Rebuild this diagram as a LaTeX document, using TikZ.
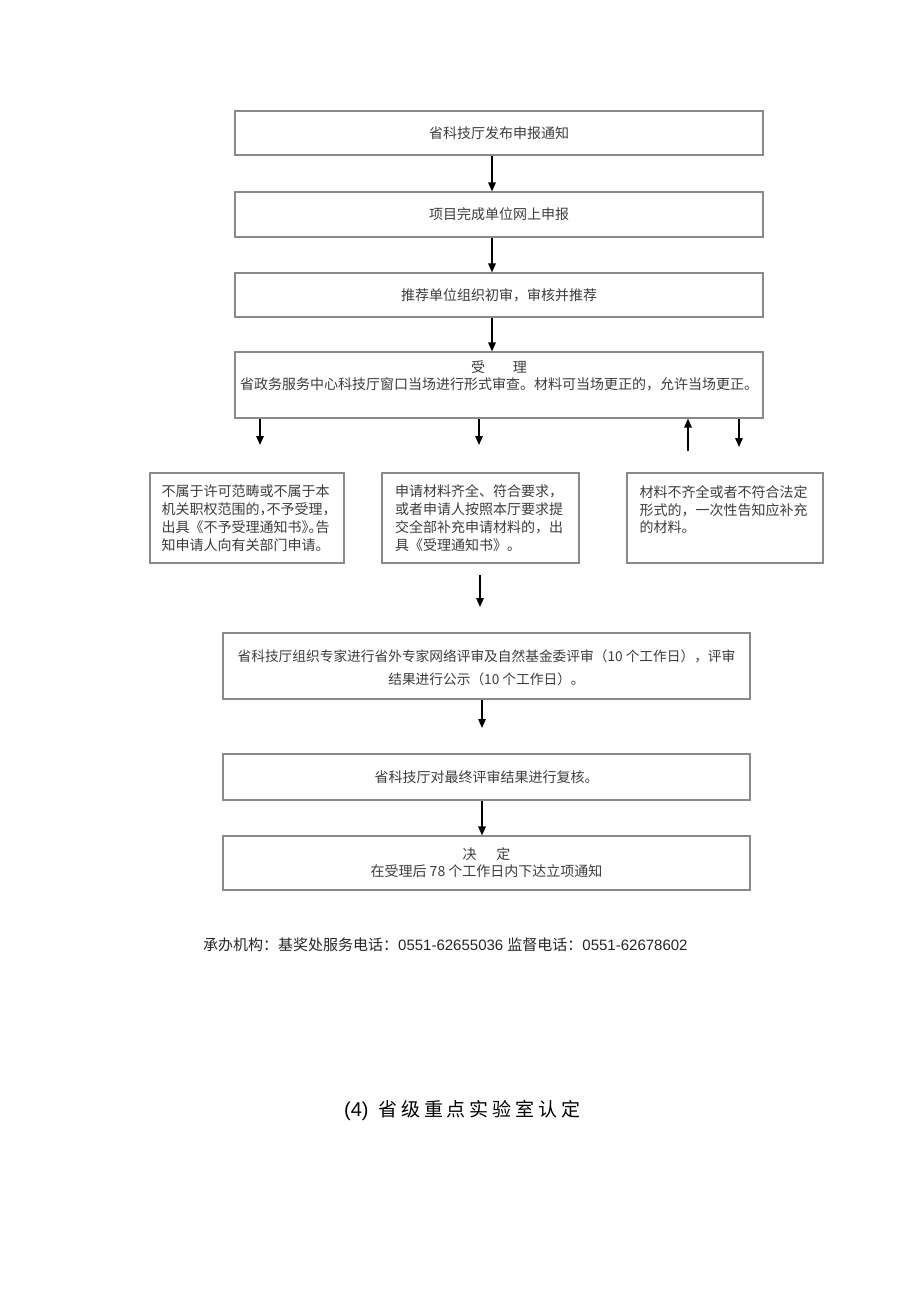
\documentclass[tikz,border=0pt]{standalone}
\usepackage{fontspec}
\setmainfont{Liberation Serif}
\newfontfamily\cjk{Noto Sans CJK SC}
\newfontfamily\arialf{Liberation Sans}
\usetikzlibrary{arrows.meta}
\definecolor{boxgray}{HTML}{8A8A8A}
\definecolor{txtgray}{HTML}{3C3C3C}
\definecolor{foottxt}{HTML}{262626}
\newcommand{\hc}[1]{\makebox[7pt][l]{#1}}
\newcommand{\tc}[1]{\makebox[22.9pt][l]{#1}}
\begin{document}
\begin{tikzpicture}[x=1pt,y=-1pt,
  box/.style={draw=boxgray, line width=1.1pt, text=txtgray, font=\cjk\fontsize{14}{17}\selectfont, align=center, inner sep=0pt},
  wide/.style={box, minimum width=528pt},
  lower/.style={box, minimum width=527pt},
  small/.style={box, font=\cjk\fontsize{14}{17.8}\selectfont, align=left, text width=171pt, minimum height=90pt},
  arr/.style={-{Triangle[length=9pt,width=7.5pt]}, line width=1.5pt, black}]
\useasboundingbox (0,0) rectangle (920,1301);

% main boxes
\node[wide, minimum height=44pt] (b1) at (499,133) {省科技厅发布申报通知};
\node[wide, minimum height=45pt] (b2) at (499,214.5) {项目完成单位网上申报};
\node[wide, minimum height=44pt] (b3) at (499,295) {推荐单位组织初审，审核并推荐};
\node[wide, minimum height=66pt] (b4) at (499,385) {受\hspace{28pt}理\\省政务服务中心科技厅窗口当场进行形式审查。材料可当场更正的，允许当场更正。\\[3pt]\mbox{}};

% three branches
\node[small, minimum width=194pt] (ba) at (247,518) {不属于许可范畴或不属于本\\机关职权范围的\hc{，}不予受理\hc{，}\\出具《不予受理通知书\hc{》}\hc{。}告\\知申请人向有关部门申请。};
\node[small, minimum width=197pt] (bb) at (480.5,518) {申请材料齐全、符合要求，\\或者申请人按照本厅要求提\\交全部补充申请材料的，出\\具《受理通知书》。};
\node[small, minimum width=196pt] (bc) at (725,518) {材料不齐全或者不符合法定\\形式的，一次性告知应补充\\的材料。\\\mbox{}};

% lower boxes
\node[lower, minimum height=66pt] (b5) at (486.5,666) {\mbox{}\\[-1pt]\fontsize{13.7}{17}\selectfont 省科技厅组织专家进行省外专家网络评审及自然基金委评审（10 个工作日），评审\\[6pt]\fontsize{13.7}{17}\selectfont 结果进行公示（10 个工作日）。};
\node[lower, minimum height=46pt] (b6) at (486.5,777) {省科技厅对最终评审结果进行复核。};
\node[lower, minimum height=54pt] (b7) at (486.5,863) {决\hspace{20pt}定\\在受理后 78 个工作日内下达立项通知};

% connectors
\coordinate (mA) at (492,0);
\draw[arr] (b1.south -| mA) -- (b2.north -| mA);
\draw[arr] (b2.south -| mA) -- (b3.north -| mA);
\draw[arr] (b3.south -| mA) -- (b4.north -| mA);

\coordinate (dA) at (260,445);
\coordinate (dB) at (479,445);
\coordinate (uC) at (688,451);
\coordinate (dC) at (739,447);
\draw[arr] (b4.south -| dA) -- (dA);
\draw[arr] (b4.south -| dB) -- (dB);
\draw[arr] (uC) -- (b4.south -| uC);
\draw[arr] (b4.south -| dC) -- (dC);

\coordinate (bs) at (480,575);
\coordinate (be) at (480,607);
\draw[arr] (bs) -- (be);

\coordinate (mB) at (482,0);
\coordinate (c6) at (482,728);
\draw[arr] (b5.south -| mB) -- (c6);
\draw[arr] (b6.south -| mB) -- (b7.north -| mB);

% footer
\node[anchor=west, inner sep=0pt, text=foottxt, font=\fontsize{15}{18}\selectfont] (foot) at (203,945)
  {\cjk 承办机构：基奖处服务电话：\arialf 0551-62655036 \cjk 监督电话：\arialf 0551-62678602};

% title
\node[anchor=west, inner sep=0pt, text=black, font=\fontsize{20}{24}\selectfont] (title) at (344,1110)
  {\arialf (4)\hspace{9.6pt}\cjk\fontsize{19}{23}\selectfont\tc{省}\tc{级}\tc{重}\tc{点}\tc{实}\tc{验}\tc{室}\tc{认}\makebox[19pt][l]{定}};
\end{tikzpicture}
\end{document}
